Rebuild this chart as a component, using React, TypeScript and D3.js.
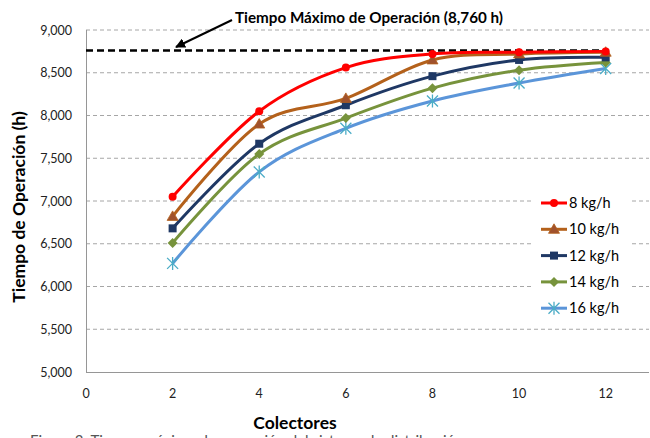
import React, { useEffect, useRef } from "react";
import * as d3 from "d3";

// collectors on x axis
const colectores = [2, 4, 6, 8, 10, 12];
const seriesNames = ["8 kg/h", "10 kg/h", "12 kg/h", "14 kg/h", "16 kg/h"];
const s8 = [7050, 8050, 8560, 8720, 8740, 8750];
const s10 = [6820, 7900, 8200, 8650, 8720, 8740];
const s12 = [6680, 7670, 8120, 8460, 8650, 8680];
const s14 = [6510, 7550, 7970, 8320, 8530, 8620];
const s16 = [6270, 7340, 7850, 8170, 8380, 8550];
const maxHours = 8760;
const yTicks = [5000, 5500, 6000, 6500, 7000, 7500, 8000, 8500, 9000];
const xTicks = [0, 2, 4, 6, 8, 10, 12];

const lineColors = ["#ff0000", "#b4611b", "#1f3864", "#77933c", "#5b95d9"];
const markColors = ["#ff0000", "#a0522d", "#1f3864", "#77933c", "#4bacc6"];
const markers = ["circle", "triangle", "square", "diamond", "star"];

const W = 650, H = 438;
const FONT = "Lato, 'Open Sans', sans-serif";

export default function App() {
  const svgRef = useRef<SVGSVGElement>(null);

  useEffect(() => {
    if (!svgRef.current) return;
    const svg = d3.select(svgRef.current);
    svg.selectAll("*").remove();

    const x = d3.scaleLinear().domain([0, 13]).range([86, 649]);
    const y = d3.scaleLinear().domain([5000, 9000]).range([372, 30]);

    // gridlines
    svg.append("g")
      .selectAll("line")
      .data(yTicks.slice(1))
      .enter()
      .append("line")
      .attr("x1", 86).attr("x2", 649)
      .attr("y1", d => y(d)).attr("y2", d => y(d))
      .attr("stroke", "#a6a6a6")
      .attr("stroke-width", 1)
      .attr("stroke-dasharray", "4,3");

    // axes lines
    svg.append("line").attr("x1", 86.5).attr("x2", 86.5).attr("y1", 30).attr("y2", 372)
      .attr("stroke", "#969696");
    svg.append("line").attr("x1", 86).attr("x2", 649).attr("y1", 372.5).attr("y2", 372.5)
      .attr("stroke", "#969696");

    // tick labels
    const fmt = d3.format(",");
    svg.append("g").selectAll("text").data(yTicks).enter().append("text")
      .attr("x", 72).attr("y", d => y(d) + 4.5)
      .attr("text-anchor", "end")
      .attr("font-family", FONT).attr("font-size", 12.5).attr("fill", "#222")
      .text(d => fmt(d));
    svg.append("g").selectAll("text").data(xTicks).enter().append("text")
      .attr("x", d => x(d)).attr("y", 398)
      .attr("text-anchor", "middle")
      .attr("font-family", FONT).attr("font-size", 12.5).attr("fill", "#222")
      .text(d => String(d));

    // max operating time line
    svg.append("line")
      .attr("x1", x(0)).attr("x2", x(12))
      .attr("y1", y(maxHours)).attr("y2", y(maxHours))
      .attr("stroke", "#000").attr("stroke-width", 2.5)
      .attr("stroke-dasharray", "7,4");

    // series
    const all = [s8, s10, s12, s14, s16];
    const line = d3.line<[number, number]>()
      .x(d => x(d[0]))
      .y(d => y(d[1]))
      .curve(d3.curveCardinal.tension(0));

    const drawMarker = (g: any, kind: string, cx: number, cy: number, color: string) => {
      if (kind === "circle") {
        g.append("circle").attr("cx", cx).attr("cy", cy).attr("r", 4).attr("fill", color);
      } else if (kind === "triangle") {
        g.append("path").attr("d", `M${cx},${cy - 5.5}L${cx + 5.5},${cy + 4}L${cx - 5.5},${cy + 4}Z`)
          .attr("fill", color).attr("stroke", "#b4611b").attr("stroke-width", 0.8);
      } else if (kind === "square") {
        g.append("rect").attr("x", cx - 4).attr("y", cy - 4).attr("width", 8).attr("height", 8)
          .attr("fill", color);
      } else if (kind === "diamond") {
        g.append("path").attr("d", `M${cx},${cy - 5}L${cx + 5},${cy}L${cx},${cy + 5}L${cx - 5},${cy}Z`)
          .attr("fill", color);
      } else {
        const r = 5.5;
        g.append("path")
          .attr("d", `M${cx - r},${cy - r}L${cx + r},${cy + r}M${cx - r},${cy + r}L${cx + r},${cy - r}M${cx},${cy - r - 1}L${cx},${cy + r + 1}`)
          .attr("stroke", color).attr("stroke-width", 1.3).attr("fill", "none");
      }
    };

    // draw from last to first so red sits on top
    for (let i = all.length - 1; i >= 0; i--) {
      const pts = colectores.map((c, j) => [c, all[i][j]] as [number, number]);
      const g = svg.append("g");
      g.append("path")
        .datum(pts)
        .attr("fill", "none")
        .attr("stroke", lineColors[i])
        .attr("stroke-width", 3)
        .attr("d", line);
      pts.forEach(p => drawMarker(g, markers[i], x(p[0]), y(p[1]), markColors[i]));
    }

    // legend
    const lg = svg.append("g");
    lg.append("rect").attr("x", 533).attr("y", 190).attr("width", 97).attr("height", 130).attr("fill", "#fff");
    seriesNames.forEach((name, i) => {
      const ly = 203 + i * 26.3;
      lg.append("line").attr("x1", 541).attr("x2", 567).attr("y1", ly).attr("y2", ly)
        .attr("stroke", lineColors[i]).attr("stroke-width", 3);
      drawMarker(lg, markers[i], 554, ly, markColors[i]);
      lg.append("text").attr("x", 569).attr("y", ly + 5)
        .attr("font-family", FONT).attr("font-size", 14.5).attr("fill", "#000")
        .text(name);
    });

    // annotation
    svg.append("defs").append("marker")
      .attr("id", "arr").attr("viewBox", "0 0 10 10").attr("refX", 9).attr("refY", 5)
      .attr("markerWidth", 5).attr("markerHeight", 5).attr("orient", "auto")
      .append("path").attr("d", "M0,0L10,5L0,10Z").attr("fill", "#000");
    svg.append("line")
      .attr("x1", 232).attr("y1", 20).attr("x2", 176).attr("y2", 47)
      .attr("stroke", "#000").attr("stroke-width", 2)
      .attr("marker-end", "url(#arr)");
    svg.append("text")
      .attr("x", 235).attr("y", 23)
      .attr("font-family", FONT).attr("font-weight", "bold").attr("font-size", 14.5)
      .attr("textLength", 268).attr("lengthAdjust", "spacingAndGlyphs")
      .text("Tiempo Máximo de Operación (8,760 h)");

    // axis titles
    svg.append("text")
      .attr("transform", "translate(25,207) rotate(-90)")
      .attr("text-anchor", "middle")
      .attr("font-family", FONT).attr("font-weight", "bold").attr("font-size", 17.5)
      .text("Tiempo de Operación (h)");
    svg.append("text")
      .attr("x", 295).attr("y", 429)
      .attr("text-anchor", "middle")
      .attr("font-family", FONT).attr("font-weight", "bold").attr("font-size", 17.5)
      .text("Colectores");

    // caption, cut off by the picture edge as in the source
    svg.append("text")
      .attr("x", 30).attr("y", 446)
      .attr("font-family", FONT).attr("font-size", 15).attr("fill", "#555")
      .text("Figura 3. Tiempo máximo de operación del sistema de distribución");
  }, []);

  return (
    <svg ref={svgRef} width={W} height={H}
      style={{ position: "absolute", left: 0, top: 0, background: "#fff" }} />
  );
}
